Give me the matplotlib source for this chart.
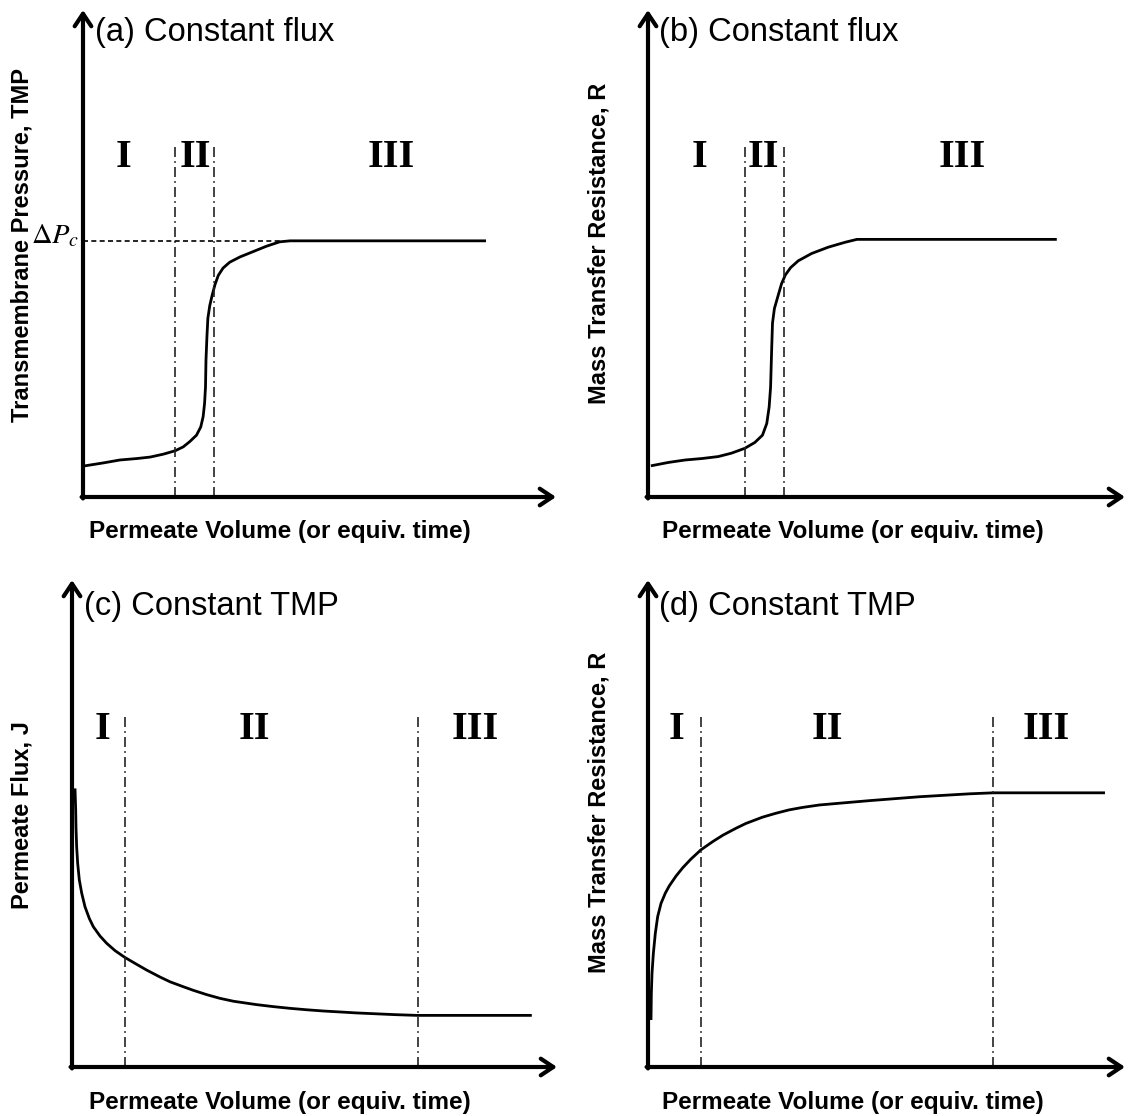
import matplotlib
matplotlib.use("Agg")
import matplotlib.pyplot as plt
import numpy as np

plt.rcParams['font.family'] = ['Liberation Sans', 'DejaVu Sans']
plt.rcParams['mathtext.fontset'] = 'stix'

# curve points (arbitrary units, 0-100 along each axis)
a_x = [0.4, 4.3, 7.8, 11.4, 14.2, 17.0, 19.5, 21.2, 22.6, 24.0, 24.9, 25.4, 25.7, 25.9, 26.0, 26.2, 26.4,
       26.8, 27.3, 27.9, 28.6, 29.6, 31.0, 33.2, 36.0, 38.8, 41.6, 43.8, 85.2]
a_y = [6.4, 7.0, 7.6, 7.9, 8.2, 8.8, 9.5, 10.3, 11.4, 12.7, 14.4, 16.5, 19.2, 22.6, 28.1, 32.9, 36.7,
       39.3, 41.4, 43.6, 45.5, 47.0, 48.2, 49.3, 50.4, 51.5, 52.4, 52.6, 52.6]
a_split = [19.5, 27.8]
a_dpc = 52.6

b_x = [0.6, 4.3, 7.8, 11.3, 14.7, 17.5, 20.3, 22.4, 24.0, 24.9, 25.4, 25.7, 25.9, 26.1, 26.5, 27.2,
       28.0, 28.8, 29.9, 31.5, 34.3, 37.8, 41.3, 43.8, 85.7]
b_y = [6.4, 7.1, 7.6, 7.9, 8.3, 9.0, 10.0, 11.2, 12.7, 15.1, 18.5, 22.6, 29.5, 35.7, 38.7, 41.1,
       43.8, 45.6, 47.1, 48.5, 50.0, 51.3, 52.3, 52.9, 52.9]
b_split = [20.3, 28.5]

c_x = [0.62, 0.76, 0.82, 0.96, 1.17, 1.51, 2.0, 2.68, 3.57, 4.4, 5.77, 7.15, 8.87, 10.9, 13.3, 15.4,
       18.1, 20.2, 22.9, 25.0, 27.8, 30.5, 33.3, 38.1, 41.5, 44.9, 48.4, 51.8, 55.3, 58.7, 62.1,
       66.6, 71.1, 94.8]
c_y = [57.2, 52.8, 49.3, 45.2, 41.8, 38.4, 35.7, 32.9, 30.5, 28.8, 26.9, 25.4, 23.9, 22.5, 21.1, 19.9,
       18.5, 17.5, 16.5, 15.75, 14.85, 14.1, 13.5, 12.8, 12.4, 12.05, 11.75, 11.5, 11.3, 11.1, 10.95,
       10.75, 10.6, 10.6]
c_split = [10.9, 71.3]

d_x = [0.63, 0.70, 0.84, 1.12, 1.54, 2.03, 2.73, 3.63, 4.47, 5.87, 7.27, 9.01, 11.1, 13.6, 15.7,
       18.4, 20.5, 24.0, 26.8, 29.6, 32.4, 35.9, 39.4, 46.5, 57.0, 67.5, 72.4, 95.8]
d_y = [9.65, 15.1, 19.2, 23.3, 27.5, 30.9, 33.6, 35.7, 37.2, 39.2, 40.9, 42.7, 44.6, 46.3, 47.6,
       49.0, 50.0, 51.3, 52.1, 52.8, 53.3, 53.8, 54.1, 54.7, 55.5, 56.1, 56.3, 56.3]
d_split = [11.1, 72.4]

titles = ['(a) Constant flux', '(b) Constant flux', '(c) Constant TMP', '(d) Constant TMP']
ylabels = ['Transmembrane Pressure, TMP', 'Mass Transfer Resistance, R',
           'Permeate Flux, J', 'Mass Transfer Resistance, R']
xlabel = 'Permeate Volume (or equiv. time)'
regions = ['I', 'II', 'III']

W, H = 1130, 1116
fig = plt.figure(figsize=(W / 100, H / 100), dpi=100)

def px_ax(x0, y0, x1, y1):
    return fig.add_axes([x0 / W, 1 - y0 / H, (x1 - x0) / W, (y0 - y1) / H])

ax_a = px_ax(83, 497, 556, 10)
ax_b = px_ax(648, 497, 1125, 10)
ax_c = px_ax(72, 1067, 557, 580)
ax_d = px_ax(648, 1067, 1125, 580)
axes = [ax_a, ax_b, ax_c, ax_d]

curves = [(a_x, a_y), (b_x, b_y), (c_x, c_y), (d_x, d_y)]
splits = [a_split, b_split, c_split, d_split]
vtop = [72.3, 72.3, 71.9, 71.9]
roman_x = [[8.5, 23.7, 65.1], [10.7, 24.1, 65.8], [6.2, 37.5, 83.1], [5.9, 37.7, 83.4]]
roman_y = [69.8, 69.8, 69.2, 69.2]
title_y = [95.3, 95.3, 94.5, 94.5]
title_x = [2.5, 2.3, 2.5, 2.3]
ylab_pos = [(22, 245), (599, 243), (22, 815), (599, 812)]
xlab_pos = [(280, 532), (853, 532), (280, 1102), (853, 1102)]

for i, ax in enumerate(axes):
    ax.set_xlim(0, 100)
    ax.set_ylim(0, 100)
    ax.axis('off')
    arr = dict(arrowstyle='->,head_length=0.45,head_width=0.3', lw=3, color='black',
               mutation_scale=20, shrinkA=0, shrinkB=0)
    ax.annotate('', xy=(1, 0), xytext=(-0.003, 0), xycoords='axes fraction', arrowprops=arr)
    ax.annotate('', xy=(0, 1), xytext=(0, -0.003), xycoords='axes fraction', arrowprops=arr)
    x, y = curves[i]
    ax.plot(x, y, color='black', lw=2, solid_capstyle='butt', solid_joinstyle='round', clip_on=False)
    for s in splits[i]:
        ax.plot([s, s], [0, vtop[i]], color='#222222', lw=1.2, linestyle=(0, (6, 2.5, 1, 2.5)))
    for rx, r in zip(roman_x[i], regions):
        ax.text(rx, roman_y[i], r, family='Liberation Serif', fontweight='bold', fontsize=29,
                ha='center', va='center')
    ax.text(title_x[i], title_y[i], titles[i], fontsize=23.5, ha='left', va='center')
    fig.text(ylab_pos[i][0] / W, 1 - ylab_pos[i][1] / H, ylabels[i], rotation=90,
             fontsize=17, fontweight='bold', ha='center', va='center')
    fig.text(xlab_pos[i][0] / W, 1 - xlab_pos[i][1] / H, xlabel,
             fontsize=17.5, fontweight='bold', ha='center', va='center')

# critical pressure marker in (a)
ax_a.plot([0, a_x[26]], [a_dpc, a_dpc], color='black', lw=1.2, linestyle=(0, (3, 2)))
ax_a.text(-0.7, a_dpc - 0.6, r'$\Delta P_c$', fontsize=20.5, ha='right', va='baseline', clip_on=False)

fig.savefig('out.png', dpi=100)
